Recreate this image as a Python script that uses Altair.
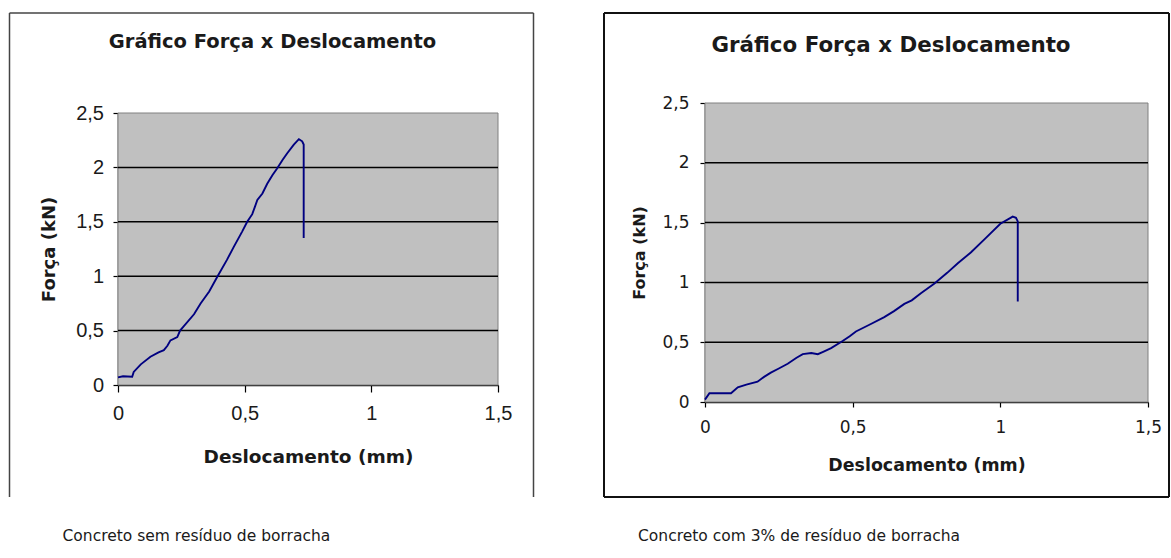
import altair as alt
import pandas as pd

# Force x displacement, concrete without rubber residue
sem_x = [0.0, 0.02, 0.056, 0.062, 0.09, 0.128, 0.16, 0.181, 0.195, 0.207, 0.234, 0.245,
         0.26, 0.30, 0.326, 0.36, 0.392, 0.43, 0.457, 0.49, 0.51, 0.53, 0.55, 0.57,
         0.589, 0.61, 0.628, 0.65, 0.668, 0.694, 0.714, 0.727, 0.733, 0.733]
sem_y = [0.07, 0.08, 0.076, 0.12, 0.19, 0.26, 0.30, 0.32, 0.36, 0.41, 0.44, 0.50,
         0.54, 0.65, 0.75, 0.86, 0.995, 1.15, 1.27, 1.41, 1.50, 1.57, 1.70, 1.76,
         1.85, 1.93, 1.99, 2.07, 2.13, 2.21, 2.26, 2.24, 2.21, 1.35]

# Force x displacement, concrete with 3% rubber residue
com_x = [0.0, 0.015, 0.05, 0.088, 0.111, 0.14, 0.178, 0.2, 0.223, 0.25, 0.28, 0.31,
         0.331, 0.36, 0.382, 0.40, 0.427, 0.466, 0.49, 0.511, 0.56, 0.607, 0.64,
         0.675, 0.70, 0.731, 0.777, 0.82, 0.856, 0.90, 0.946, 1.0, 1.042, 1.053,
         1.059, 1.059]
com_y = [0.02, 0.073, 0.073, 0.073, 0.123, 0.145, 0.17, 0.21, 0.245, 0.28, 0.32, 0.37,
         0.40, 0.41, 0.40, 0.42, 0.45, 0.51, 0.55, 0.59, 0.65, 0.71, 0.76,
         0.82, 0.85, 0.91, 0.99, 1.08, 1.16, 1.25, 1.36, 1.49, 1.55, 1.54,
         1.51, 0.84]

x_ticks = [0, 0.5, 1, 1.5]
y_ticks = [0, 0.5, 1, 1.5, 2, 2.5]
grid_values = [0.5, 1, 1.5, 2]

chart_title = "Gráfico Força x Deslocamento"
x_title = "Deslocamento (mm)"
y_title = "Força (kN)"
caption_left = "Concreto sem resíduo de borracha"
caption_right = "Concreto com 3% de resíduo de borracha"

LINE = "#000080"
PLOT_BG = "#C0C0C0"
TEXT = "#1a1a1a"
COMMA = "replace(toString(datum.value), '.', ',')"
one_row = alt.Data(values=[{}])


def panel(xs, ys, w, h, top, frame, title_pos, title_size, caption_pos, caption,
          tick_font, tick_size, tick_len_x, pad_x, pad_y, xt, yt, xt_size, yt_size,
          frame_color, frame_width, open_bottom):
    """One framed panel; the plotting region spans y from `top` to `h`."""
    df = pd.DataFrame({"x": xs, "y": ys, "i": list(range(len(xs)))})
    xsc = alt.Scale(domain=[0, 1.5], nice=False)
    ysc = alt.Scale(domain=[0, 2.5], nice=False, range=[h, top])

    x_axis = alt.Axis(
        values=x_ticks, labelExpr=COMMA, grid=False,
        tickSize=tick_len_x, tickColor="#000", tickWidth=1.2,
        domainColor="#000", domainWidth=1.5,
        labelFont=tick_font, labelFontSize=tick_size, labelColor=TEXT,
        labelPadding=pad_x, labelFlush=False, labelOverlap=False,
        title=x_title, titleFont="DejaVu Sans", titleFontSize=xt_size,
        titleFontWeight="bold", titleColor=TEXT,
        titleX=xt[0], titleY=xt[1], titleAlign="center", titleBaseline="middle")
    y_axis = alt.Axis(
        values=y_ticks, labelExpr=COMMA, grid=False,
        tickSize=5, tickColor="#000", tickWidth=1.2,
        domainColor="#000", domainWidth=1.5,
        labelFont=tick_font, labelFontSize=tick_size, labelColor=TEXT,
        labelPadding=pad_y, labelFlush=False, labelOverlap=False,
        title=y_title, titleFont="DejaVu Sans", titleFontSize=yt_size,
        titleFontWeight="bold", titleColor=TEXT, titleAngle=270,
        titleX=yt[0], titleY=yt[1], titleAlign="center", titleBaseline="middle")

    # grey plotting region with a thin grey border
    back = alt.Chart(one_row).mark_rect(
        fill=PLOT_BG, stroke="#808080", strokeWidth=1
    ).encode(x=alt.value(0), x2=alt.value(w), y=alt.value(top), y2=alt.value(h))

    # horizontal reference lines at the inner ticks
    grid = alt.Chart(pd.DataFrame({"y": grid_values})).mark_rule(
        color="#000000", strokeWidth=1.5
    ).encode(y=alt.Y("y:Q", scale=ysc, axis=y_axis))

    line = alt.Chart(df).mark_line(color=LINE, strokeWidth=1.9).encode(
        x=alt.X("x:Q", scale=xsc, axis=x_axis),
        y=alt.Y("y:Q", scale=ysc, axis=y_axis),
        order=alt.Order("i:Q"),
    )

    fx1, fx2, fy1, fy2 = frame
    sides = [
        (fx1, fx1, fy1, fy2),
        (fx2, fx2, fy1, fy2),
        (fx1, fx2, fy1, fy1),
    ]
    if not open_bottom:
        sides.append((fx1, fx2, fy2, fy2))
    borders = [
        alt.Chart(one_row).mark_rule(color=frame_color, strokeWidth=frame_width).encode(
            x=alt.value(a), x2=alt.value(b), y=alt.value(c), y2=alt.value(d))
        for a, b, c, d in sides
    ]

    title = alt.Chart(one_row).mark_text(
        font="DejaVu Sans", fontSize=title_size, fontWeight="bold", color=TEXT,
        align="center", baseline="middle"
    ).encode(x=alt.value(title_pos[0]), y=alt.value(title_pos[1]),
             text=alt.value(chart_title))

    cap = alt.Chart(one_row).mark_text(
        font="DejaVu Sans", fontSize=15.5, color=TEXT,
        align="left", baseline="middle"
    ).encode(x=alt.value(caption_pos[0]), y=alt.value(caption_pos[1]),
             text=alt.value(caption))

    return alt.layer(back, grid, line, *borders, title, cap).properties(width=w, height=h)


left = panel(sem_x, sem_y, 380, 282, 10,
             frame=(-108.5, 415.5, -90, 394), title_pos=(154.5, -61), title_size=19.5,
             caption_pos=(-55.5, 433), caption=caption_left,
             tick_font="Liberation Sans", tick_size=20, tick_len_x=7,
             pad_x=11, pad_y=9.5, xt=(190, 71), yt=(-68.5, 146),
             xt_size=18.5, yt_size=18, frame_color="#444", frame_width=1.5,
             open_bottom=True)

right = panel(com_x, com_y, 443, 299, 0,
              frame=(-101, 464, -90, 394), title_pos=(186, -57), title_size=21.4,
              caption_pos=(-67, 433), caption=caption_right,
              tick_font="DejaVu Sans", tick_size=17, tick_len_x=5,
              pad_x=12, pad_y=11, xt=(221.5, 63), yt=(-66, 149.5),
              xt_size=17.4, yt_size=16, frame_color="#111", frame_width=2,
              open_bottom=False)

chart = alt.hconcat(left, right, spacing=68).properties(
    padding={"left": 8, "top": 12, "right": 0, "bottom": 0},
    background="white",
).configure_view(fill=None, stroke=None)

chart.save("out.html", embed_options={"renderer": "svg", "actions": False})
